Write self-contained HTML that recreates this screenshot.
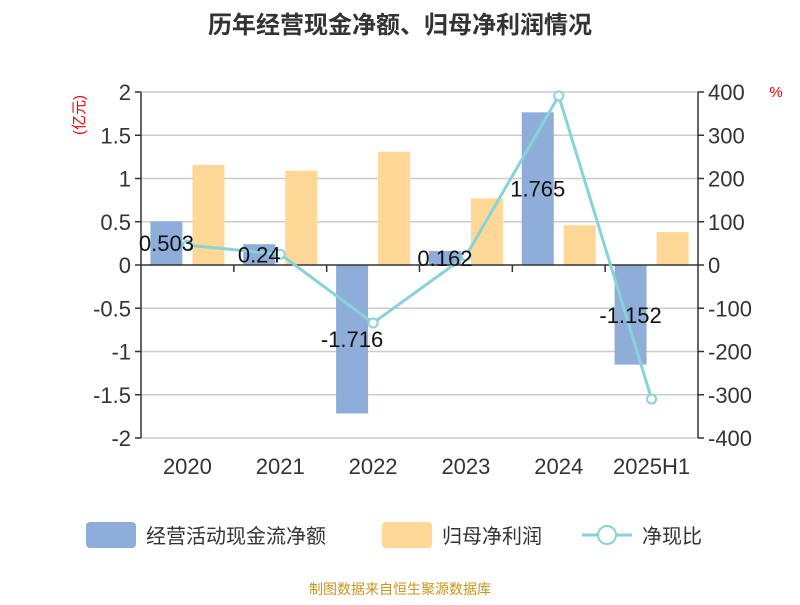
<!DOCTYPE html>
<html><head><meta charset="utf-8"><style>
body{margin:0;background:#fff;}
svg text{font-family:"Liberation Sans","Noto Sans CJK SC",sans-serif;}
</style></head><body>
<svg width="800" height="600" xmlns="http://www.w3.org/2000/svg" id="chart">
<text x="400" y="33" text-anchor="middle" font-size="24" font-weight="bold" fill="#333">历年经营现金净额、归母净利润情况</text>
<text transform="translate(84,115) rotate(-90)" text-anchor="middle" font-size="15" fill="#e00">(亿元)</text>
<text x="776" y="97" text-anchor="middle" font-size="15" fill="#e00">%</text>
<g id="grid"></g><g id="bars"></g><g id="axes"></g><g id="line"></g><g id="labels"></g>
<g>
<rect x="86" y="522" width="50" height="26" rx="4" fill="#8eadd9"/>
<text x="146" y="543" font-size="20" fill="#333">经营活动现金流净额</text>
<rect x="382" y="522" width="50" height="26" rx="4" fill="#ffd797"/>
<text x="442" y="543" font-size="20" fill="#333">归母净利润</text>
<line x1="582" y1="535" x2="632" y2="535" stroke="#88d3d8" stroke-width="3"/>
<circle cx="607" cy="535" r="9" fill="#fff" stroke="#88d3d8" stroke-width="2"/>
<text x="642" y="543" font-size="20" fill="#333">净现比</text>
</g>
<text x="400" y="594" text-anchor="middle" font-size="14" fill="#c8961e">制图数据来自恒生聚源数据库</text>
</svg>
<script>
const categories=["2020","2021","2022","2023","2024","2025H1"];
const cashValues=[0.503,0.24,-1.716,0.162,1.765,-1.152];
const profitValues=[1.156,1.09,1.31,0.77,0.46,0.38];
const ratioValues=[46,25,-134,21,391,-310];
const leftTicks=[2,1.5,1,0.5,0,-0.5,-1,-1.5,-2];
const rightTicks=[400,300,200,100,0,-100,-200,-300,-400];
const NS="http://www.w3.org/2000/svg";
const X0=141,X1=698,YT=92,YB=438;
const yL=v=>265-v*(YB-YT)/4;
const yR=v=>265-v*(YB-YT)/800;
const bw=(X1-X0)/categories.length;
const xc=i=>X0+bw*(i+0.5);
function mk(p,tag,attrs,txt){const e=document.createElementNS(NS,tag);for(const k in attrs)e.setAttribute(k,attrs[k]);if(txt!==undefined)e.textContent=txt;document.getElementById(p).appendChild(e);return e;}
leftTicks.forEach((t,i)=>{
 if(t!==0){const g=mk('grid','line',{x1:X0,x2:X1,y1:yL(t),y2:yL(t),stroke:'#ccc','stroke-width':1.5});
 
 }
 const a=mk('axes','text',{x:X0-10,y:yL(t)+8,'text-anchor':'end','font-size':22,fill:'#333'},String(t));
 
 
 mk('axes','line',{x1:X0-6,x2:X0,y1:yL(t),y2:yL(t),stroke:'#333','stroke-width':1.5});
});
rightTicks.forEach(t=>{
 const a=mk('axes','text',{x:X1+10,y:yR(t)+8,'font-size':22,fill:'#333'},String(t));
 
 
 mk('axes','line',{x1:X1,x2:X1+6,y1:yR(t),y2:yR(t),stroke:'#333','stroke-width':1.5});
});
let ax=mk('axes','line',{x1:X0,x2:X0,y1:YT,y2:YB,stroke:'#333','stroke-width':1.5});


ax=mk('axes','line',{x1:X1,x2:X1,y1:YT,y2:YB,stroke:'#333','stroke-width':1.5});


ax=mk('axes','line',{x1:X0,x2:X1,y1:yL(0),y2:yL(0),stroke:'#333','stroke-width':1.5});


categories.forEach((c,i)=>{
 if(i>0)mk('axes','line',{x1:X0+bw*i,x2:X0+bw*i,y1:yL(0),y2:yL(0)+7,stroke:'#333','stroke-width':1.5});
 const t=mk('axes','text',{x:xc(i),y:474,'text-anchor':'middle','font-size':22,fill:'#333'},c);
 
 
 const v=cashValues[i],y0=yL(0),y1=yL(v);
 const b=mk('bars','rect',{x:xc(i)-37,y:Math.min(y0,y1),width:32,height:Math.abs(y1-y0),fill:'#8eadd9'});
 
 
 const p=profitValues[i],py=yL(p);
 const b2=mk('bars','rect',{x:xc(i)+5,y:Math.min(y0,py),width:32,height:Math.abs(py-y0),fill:'#ffd797'});
 
 
 const l=mk('labels','text',{x:xc(i)-21,y:(y0+y1)/2+8,'text-anchor':'middle','font-size':22,fill:'#111'},String(v));
 
 
});
const pl=mk('line','polyline',{points:ratioValues.map((v,i)=>xc(i)+','+yR(v)).join(' '),fill:'none',stroke:'#88d3d8','stroke-width':3});


ratioValues.forEach((v,i)=>{
 const c=mk('line','circle',{cx:xc(i),cy:yR(v),r:4.5,fill:'#fff',stroke:'#88d3d8','stroke-width':2});
 
 
});
</script>
</body></html>
